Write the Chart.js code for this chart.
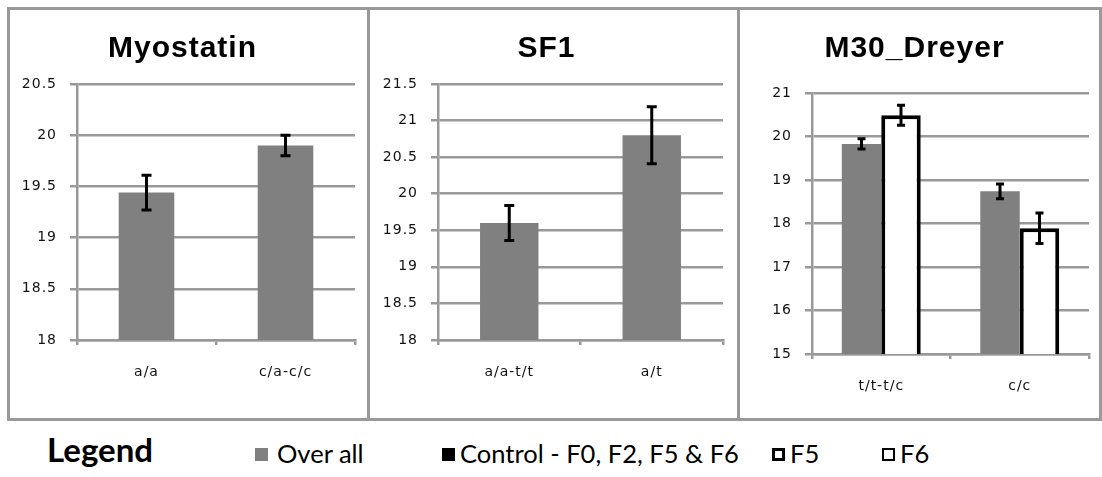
<!DOCTYPE html>
<html>
<head>
<meta charset="utf-8">
<script src="https://cdn.jsdelivr.net/npm/chart.js@4.4.1/dist/chart.umd.min.js"></script>
<style>
  body { margin: 0; background: #fff; }
  #wrap { position: relative; width: 1102px; height: 477px; overflow: hidden; }
  .frame { position: absolute; left: 7px; top: 7px; width: 1095px; height: 414px; border: 3px solid #999; box-sizing: border-box; }
  .divider { position: absolute; top: 7px; width: 3px; height: 414px; background: #999; }
  canvas { position: absolute; top: 10px; }
  .lg { position: absolute; font-family: Lato, "Noto Sans", sans-serif; font-size: 25.5px; line-height: 26px; color: #000; white-space: nowrap; }
  .sw { position: absolute; width: 13px; height: 13px; box-sizing: border-box; }
</style>
</head>
<body>
<div id="wrap">
  <div class="frame"></div>
  <div class="divider" style="left:367px"></div>
  <div class="divider" style="left:737px"></div>

  <canvas id="myostatin" width="356" height="408" style="left:10px"></canvas>
  <canvas id="sf1" width="367" height="408" style="left:370px"></canvas>
  <canvas id="m30" width="359" height="408" style="left:740px"></canvas>

  <div class="lg" style="left:47px; top:432px; font-size:33px; line-height:34px; font-weight:bold">Legend</div>
  <div class="sw" style="left:255px; top:448px; background:#808080"></div>
  <div class="lg" style="left:277px; top:440px">Over all</div>
  <div class="sw" style="left:442px; top:448px; background:#000"></div>
  <div class="lg" style="left:460px; top:440px">Control - F0, F2, F5 &amp; F6</div>
  <div class="sw" style="left:772px; top:448px; border:3px solid #000; background:#fff"></div>
  <div class="lg" style="left:790px; top:440px">F5</div>
  <div class="sw" style="left:882px; top:448px; border:2px solid #000; background:#fff"></div>
  <div class="lg" style="left:900px; top:440px">F6</div>
</div>

<script>
// Myostatin genotypes
const myoLabels = ["a/a", "c/a-c/c"];
const myoMeans = [19.44, 19.9];
const myoErr = [0.17, 0.1];

// SF1 genotypes
const sf1Labels = ["a/a-t/t", "a/t"];
const sf1Means = [19.6, 20.8];
const sf1Err = [0.24, 0.39];

// M30_Dreyer genotypes, all animals vs F5
const m30Labels = ["t/t-t/c", "c/c"];
const m30Overall = [19.83, 18.74];
const m30OverallErr = [0.12, 0.17];
const m30F5 = [20.49, 17.89];
const m30F5Err = [0.23, 0.35];

const GREY = "#808080";
const AXIS = "#999";

// draws +/- error whiskers on top of every bar that has an errors array
const errorBars = {
  id: "errorBars",
  afterDatasetsDraw(chart, args, opts) {
    const ctx = chart.ctx;
    const y = chart.scales.y;
    const cap = opts.cap || 5;
    chart.data.datasets.forEach((ds, i) => {
      if (!ds.errors) return;
      chart.getDatasetMeta(i).data.forEach((bar, j) => {
        const v = ds.data[j];
        const e = ds.errors[j];
        const top = y.getPixelForValue(v + e);
        const bot = y.getPixelForValue(v - e);
        ctx.save();
        ctx.strokeStyle = "#000";
        ctx.lineWidth = 3;
        ctx.beginPath();
        ctx.moveTo(bar.x, top);
        ctx.lineTo(bar.x, bot);
        ctx.moveTo(bar.x - cap, top);
        ctx.lineTo(bar.x + cap, top);
        ctx.moveTo(bar.x - cap, bot);
        ctx.lineTo(bar.x + cap, bot);
        ctx.stroke();
        ctx.restore();
      });
    });
  }
};

// slightly wider text spacing for the axis labels
const spacing = {
  id: "spacing",
  beforeDraw(chart) {
    chart.ctx.letterSpacing = "1px";
  }
};

function makeChart(id, title, labels, datasets, yMin, yMax, step, cfg) {
  return new Chart(document.getElementById(id), {
    type: "bar",
    data: { labels: labels, datasets: datasets },
    plugins: [spacing, errorBars],
    options: {
      responsive: false,
      animation: false,
      layout: { padding: { left: 0, right: cfg.right, top: 0, bottom: 0 } },
      plugins: {
        legend: { display: false },
        tooltip: { enabled: false },
        errorBars: { cap: cfg.cap },
        title: {
          display: true,
          text: title,
          color: "#000",
          font: { family: "Liberation Sans", size: 30, weight: "bold", lineHeight: 1.2 },
          padding: { top: cfg.titleTop, bottom: cfg.titleBottom }
        }
      },
      scales: {
        x: {
          ticks: { color: "#111", padding: 19, font: { family: "DejaVu Sans", size: 14 } },
          grid: { offset: true, drawOnChartArea: false, tickLength: 5, color: AXIS, lineWidth: 2.5 },
          border: { color: AXIS, width: 2.5 },
          afterFit(s) { s.height = cfg.xHeight; }
        },
        y: {
          min: yMin,
          max: yMax,
          ticks: {
            stepSize: step,
            padding: 13,
            color: "#111",
            font: { family: "DejaVu Sans", size: 14 },
            callback: (v) => String(v)
          },
          grid: { color: AXIS, lineWidth: 2.5, tickLength: 7 },
          border: { color: AXIS, width: 2.5 },
          afterFit(s) { s.width = cfg.yWidth; }
        }
      }
    }
  });
}

makeChart("myostatin", "Myostatin", myoLabels, [
  { label: "Over all", data: myoMeans, errors: myoErr, backgroundColor: GREY, barPercentage: 0.4, categoryPercentage: 1 }
], 18, 20.5, 0.5, { right: 11, yWidth: 67, xHeight: 78, titleTop: 21, titleBottom: 17, cap: 5 });

makeChart("sf1", "SF1", sf1Labels, [
  { label: "Over all", data: sf1Means, errors: sf1Err, backgroundColor: GREY, barPercentage: 0.41, categoryPercentage: 1 }
], 18, 21.5, 0.5, { right: 14, yWidth: 68, xHeight: 78, titleTop: 21, titleBottom: 17, cap: 5 });

makeChart("m30", "M30_Dreyer", m30Labels, [
  { label: "Over all", data: m30Overall, errors: m30OverallErr, backgroundColor: GREY, barPercentage: 1, categoryPercentage: 0.57 },
  { label: "F5", data: m30F5, errors: m30F5Err, backgroundColor: "#fff", borderColor: "#000", borderWidth: 4, borderSkipped: false, barPercentage: 1, categoryPercentage: 0.57 }
], 15, 21, 1, { right: 10, yWidth: 72, xHeight: 64, titleTop: 21, titleBottom: 26, cap: 4 });
</script>
</body>
</html>
